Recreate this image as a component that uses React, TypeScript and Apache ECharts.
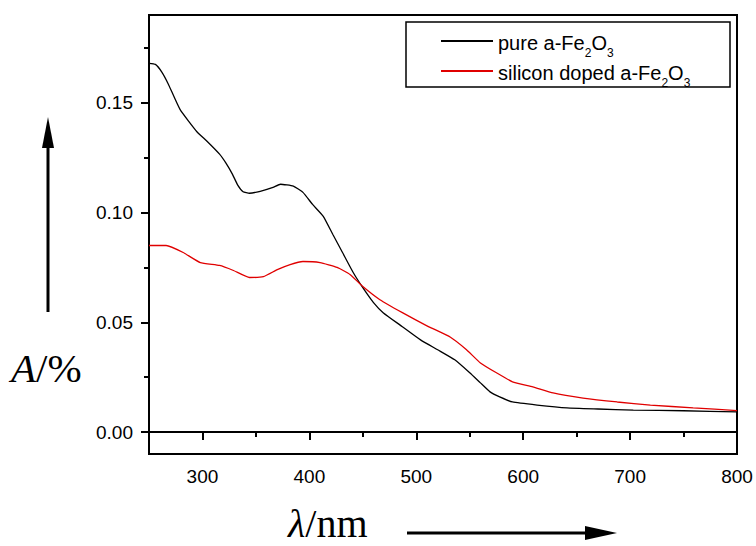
import React, { useEffect, useRef } from "react";
import * as echarts from "echarts";

const pureWavelength = [250, 256, 262, 268, 279, 295, 304, 316, 322, 328, 333, 338, 344, 354, 366, 373, 385, 394, 403, 413, 422, 431, 441, 450, 460, 469, 487, 504, 520, 536, 550, 560, 569, 578, 590, 613, 641, 670, 703, 750, 800];
const pureAbs = [0.168, 0.1675, 0.164, 0.1586, 0.147, 0.1367, 0.1326, 0.1266, 0.1225, 0.1175, 0.1125, 0.1095, 0.1088, 0.1097, 0.1115, 0.1129, 0.112, 0.1092, 0.1037, 0.0983, 0.09, 0.0818, 0.0727, 0.0658, 0.059, 0.0544, 0.048, 0.042, 0.0375, 0.0329, 0.027, 0.0224, 0.0183, 0.016, 0.0137, 0.0123, 0.011, 0.0105, 0.01, 0.0097, 0.0092];

const dopedWavelength = [250, 266, 282, 298, 316, 329, 344, 357, 370, 382, 394, 410, 426, 438, 450, 466, 487, 510, 532, 547, 560, 575, 590, 609, 628, 656, 688, 719, 759, 800];
const dopedAbs = [0.085, 0.085, 0.0818, 0.0772, 0.0759, 0.0736, 0.0704, 0.0708, 0.074, 0.0763, 0.0777, 0.0772, 0.075, 0.0718, 0.0663, 0.0603, 0.0544, 0.0484, 0.0432, 0.0375, 0.0315, 0.027, 0.0229, 0.0206, 0.0178, 0.0155, 0.0137, 0.0123, 0.011, 0.0098];

const xMajorTicks = [300, 400, 500, 600, 700, 800];
const xMinorTicks = [250, 350, 450, 550, 650, 750];
const yMajorTicks = [0, 0.05, 0.1, 0.15];
const yMinorTicks = [0.025, 0.075, 0.125, 0.175];

const seriesNames = ["pure a-Fe2O3", "silicon doped a-Fe2O3"];
const legendLabels: Record<string, string> = {
  "pure a-Fe2O3": "{n|pure a-Fe}{s|2}{n|O}{s|3}",
  "silicon doped a-Fe2O3": "{n|silicon doped a-Fe}{s|2}{n|O}{s|3}",
};

const SANS = "'Liberation Sans', Arial, sans-serif";
const SERIF = "'Liberation Serif', 'Times New Roman', serif";

export default function App() {
  const ref = useRef<HTMLDivElement>(null);
  useEffect(() => {
    if (!ref.current) return;
    const chart = echarts.init(ref.current, undefined, { renderer: "svg" });
    const xRange = { min: 250, max: 800 };
    const yRange = { min: -0.01, max: 0.19 };
    const axisLine = { show: true, lineStyle: { color: "#000", width: 2 } };
    chart.setOption({
      animation: false,
      backgroundColor: "#ffffff",
      grid: {
        left: 149,
        top: 15,
        right: 19,
        bottom: 92,
        show: true,
        borderColor: "#000",
        borderWidth: 2,
        backgroundColor: "transparent",
      },
      xAxis: [
        {
          type: "value",
          ...xRange,
          axisLine,
          splitLine: { show: false },
          axisTick: { show: true, customValues: xMajorTicks, length: 8, lineStyle: { color: "#000", width: 2 } },
          axisLabel: { customValues: xMajorTicks, color: "#000", fontSize: 19, fontFamily: SANS, margin: 13 },
        },
        {
          type: "value",
          ...xRange,
          position: "bottom",
          axisLine,
          splitLine: { show: false },
          axisTick: { show: true, customValues: xMinorTicks, length: 5, lineStyle: { color: "#000", width: 2 } },
          axisLabel: { show: false },
        },
      ],
      yAxis: [
        {
          type: "value",
          ...yRange,
          axisLine,
          splitLine: { show: false },
          axisTick: { show: true, customValues: yMajorTicks, length: 8, lineStyle: { color: "#000", width: 2 } },
          axisLabel: {
            customValues: yMajorTicks,
            color: "#000",
            fontSize: 19,
            fontFamily: SANS,
            margin: 16,
            formatter: (v: number) => v.toFixed(2),
          },
        },
        {
          type: "value",
          ...yRange,
          position: "left",
          axisLine,
          splitLine: { show: false },
          axisTick: { show: true, customValues: yMinorTicks, length: 5, lineStyle: { color: "#000", width: 2 } },
          axisLabel: { show: false },
        },
      ],
      legend: {
        orient: "vertical",
        left: 436,
        top: 28,
        itemWidth: 52,
        itemHeight: 2,
        itemGap: 4,
        icon: "rect",
        data: seriesNames,
        formatter: (name: string) => legendLabels[name] || name,
        textStyle: {
          color: "#000",
          fontFamily: SANS,
          fontSize: 20,
          rich: {
            n: { fontSize: 20, fontFamily: SANS, color: "#000", lineHeight: 24, verticalAlign: "bottom" },
            s: { fontSize: 12, fontFamily: SANS, color: "#000", lineHeight: 24, verticalAlign: "bottom", padding: [0, 0, -6, 0] },
          },
        },
      },
      graphic: [
        {
          type: "rect",
          shape: { x: 406, y: 22, width: 324, height: 65 },
          style: { fill: "none", stroke: "#000", lineWidth: 1.5 },
          z: 10,
        },
        {
          type: "text",
          x: 11,
          y: 368,
          style: {
            text: "{i|A}{r|/%}",
            verticalAlign: "middle",
            rich: {
              i: { fontStyle: "italic", fontSize: 41, fontFamily: SERIF, fill: "#000" },
              r: { fontSize: 41, fontFamily: SERIF, fill: "#000" },
            },
          },
        },
        {
          type: "text",
          x: 288,
          y: 523,
          style: {
            text: "{i|λ}{r|/nm}",
            verticalAlign: "middle",
            rich: {
              i: { fontStyle: "italic", fontSize: 40, lineHeight: 40, fontFamily: SERIF, fill: "#000" },
              r: { fontSize: 40, lineHeight: 40, fontFamily: SERIF, fill: "#000" },
            },
          },
        },
        {
          type: "line",
          shape: { x1: 48, y1: 312, x2: 48, y2: 145 },
          style: { stroke: "#000", lineWidth: 3 },
        },
        {
          type: "polygon",
          shape: { points: [[48, 117], [42, 148], [54, 148]] },
          style: { fill: "#000" },
        },
        {
          type: "line",
          shape: { x1: 407, y1: 533, x2: 590, y2: 533 },
          style: { stroke: "#000", lineWidth: 3 },
        },
        {
          type: "polygon",
          shape: { points: [[617, 533], [585, 526], [585, 540]] },
          style: { fill: "#000" },
        },
      ],
      series: [
        {
          name: seriesNames[0],
          type: "line",
          xAxisIndex: 0,
          yAxisIndex: 0,
          data: pureWavelength.map((x, i) => [x, pureAbs[i]]),
          showSymbol: false,
          symbol: "none",
          smooth: 0.15,
          lineStyle: { color: "#000", width: 1.3 },
          itemStyle: { color: "#000" },
        },
        {
          name: seriesNames[1],
          type: "line",
          xAxisIndex: 0,
          yAxisIndex: 0,
          data: dopedWavelength.map((x, i) => [x, dopedAbs[i]]),
          showSymbol: false,
          symbol: "none",
          smooth: 0.15,
          lineStyle: { color: "#e00000", width: 1.3 },
          itemStyle: { color: "#e00000" },
        },
      ],
    });
    return () => chart.dispose();
  }, []);
  return (
    <div
      ref={ref}
      style={{ position: "fixed", left: 0, top: 0, width: 756, height: 546, background: "#fff" }}
    />
  );
}
